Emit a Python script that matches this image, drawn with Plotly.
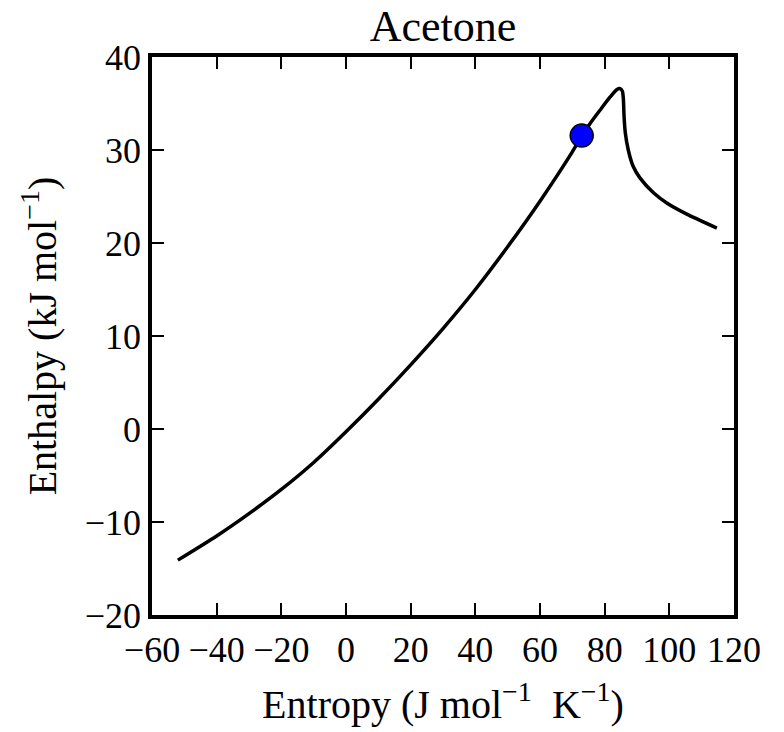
import plotly.graph_objects as go

entropy = [-52.0, -40.0, -30.0, -20.0, -10.0, 0.0, 10.0, 20.0, 30.0, 40.0, 50.0, 60.0, 70.0, 72.9,
           75.6, 78.6, 81.7, 83.8, 84.8, 85.5, 85.8, 86.0, 86.4, 87.3, 88.8, 90.9,
           95.1, 99.2, 105.4, 114.7]
enthalpy = [-14.1, -11.5, -9.1, -6.5, -3.6, -0.3, 3.2, 6.9, 10.8, 15.0, 19.6, 24.5, 29.8, 31.5,
            32.9, 34.3, 35.7, 36.5, 36.6, 36.3, 35.4, 33.6, 31.8, 30.0, 28.25, 27.0,
            25.4, 24.3, 23.1, 21.6]
point_entropy = [72.9]
point_enthalpy = [31.55]

x_ticks = [-60, -40, -20, 0, 20, 40, 60, 80, 100, 120]
y_ticks = [-20, -10, 0, 10, 20, 30, 40]

FONT = "Liberation Serif"

fig = go.Figure()
fig.add_trace(go.Scatter(x=entropy, y=enthalpy, mode="lines",
                         line=dict(color="black", width=3.5, shape="spline", smoothing=0.6),
                         showlegend=False, hoverinfo="skip"))
fig.add_trace(go.Scatter(x=point_entropy, y=point_enthalpy, mode="markers",
                         marker=dict(color="#0000ff", size=23,
                                     line=dict(color="black", width=1.5)),
                         showlegend=False))

axis_common = dict(showline=True, linecolor="black", linewidth=3.5, mirror="ticks",
                   ticks="inside", ticklen=12, tickwidth=1.5, tickcolor="black",
                   showgrid=False, zeroline=False,
                   tickfont=dict(family=FONT, size=36, color="black"))

fig.update_layout(
    width=784, height=732,
    margin=dict(l=152, r=50, t=57, b=115),
    paper_bgcolor="white", plot_bgcolor="white",
    title=dict(text="Acetone", x=0.565, xanchor="center", y=0.965, yanchor="middle",
               font=dict(family=FONT, size=44, color="black")),
    xaxis=dict(range=[-60, 120], tickvals=x_ticks,
               title=dict(text="Entropy (J mol<sup>−1</sup>  K<sup>−1</sup>)",
                          font=dict(family=FONT, size=40, color="black"), standoff=22),
               **axis_common),
    yaxis=dict(range=[-20, 40], tickvals=y_ticks,
               title=dict(text="Enthalpy (kJ mol<sup>−1</sup>)",
                          font=dict(family=FONT, size=40, color="black"), standoff=17),
               **axis_common),
)

fig.write_html("out.html")
